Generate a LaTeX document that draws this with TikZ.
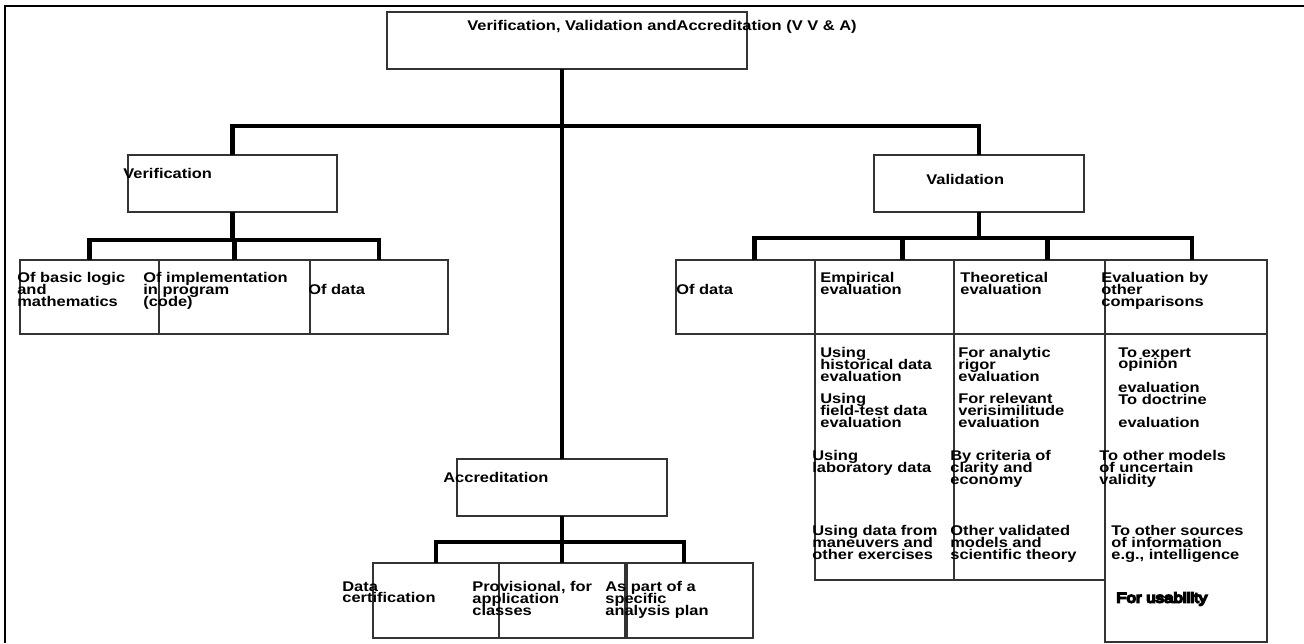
\documentclass[tikz,border=0pt]{standalone}
\usepackage{fontspec}
\setmainfont{Liberation Sans}[FakeStretch=1.17]
\newfontfamily\smearfont{Liberation Sans}[FakeStretch=1.2, FakeBold=12]
\usetikzlibrary{positioning}
% fixed line pitch, also where the lines would touch
\newcommand{\tightlines}{\setlength{\lineskiplimit}{-20pt}}
\tikzset{
  box/.style={draw=black!80, line width=0.6pt, inner sep=0pt, outer sep=0pt, anchor=north west},
  conn/.style={line width=2.3pt},
  lbl/.style={inner sep=0pt, anchor=north west, align=left,
              font=\fontsize{8}{6.7}\selectfont\tightlines\bfseries},
}
% box by top-left corner, width and height in pixels
\newcommand{\pxbox}[5]{\node[box, minimum width=#4*0.02cm, minimum height=#5*0.02cm] (#1) at (#2,#3) {};}

\begin{document}
\begin{tikzpicture}[x=0.02cm, y=-0.02cm]
    \useasboundingbox (0,0) rectangle (1304,643);
    % --- frame: top and left edges only ---
    \draw[line width=1.5pt] (1304,6) -- (5,6) -- (5,643);
    % --- top level ---
    \pxbox{root}{387}{12}{360}{57}
    \pxbox{verif}{128}{155}{209}{57}
    \pxbox{valid}{874}{155}{210}{57}
    \pxbox{accr}{457}{459}{210}{57}
    % --- verification leaves ---
    \pxbox{vlogic}{20}{260}{139}{74}
    \pxbox{vcode}{159}{260}{151}{74}
    \pxbox{vdata}{310}{260}{138}{74}
    % --- validation leaves ---
    \pxbox{adata}{676}{260}{139}{74}
    \pxbox{aemp}{815}{260}{139}{74}
    \pxbox{atheo}{954}{260}{151}{74}
    \pxbox{aother}{1105}{260}{162}{74}
    \pxbox{aempl}{815}{334}{139}{246}
    \pxbox{atheol}{954}{334}{151}{246}
    \pxbox{aotherl}{1105}{334}{162}{308}
    % --- accreditation leaves ---
    \pxbox{cdata}{373}{563}{126}{75}
    \pxbox{cprov}{499}{563}{126}{75}
    \pxbox{cplan}{627}{563}{126}{75}
    % --- connectors ---
    \draw[conn] (accr.north |- root.south) -- (accr.north);
    \draw[conn] (verif.north) -- ++(0,-29) -| (valid.north);
    \draw[conn] (verif.south) -- ++(0,28);
    \draw[conn] (vlogic.north) -- ++(0,-20) -| (vdata.north);
    \draw[conn] (vcode.north) -- ++(0,-20);
    \draw[conn] (valid.south) -- ++(0,26);
    \draw[conn] ([xshift=0.18cm]adata.north) -- ++(0,-22) -| ([xshift=0.12cm]aother.north);
    \draw[conn] ([xshift=0.36cm]aemp.north) -- ++(0,-22);
    \draw[conn] ([xshift=0.36cm]atheo.north) -- ++(0,-22);
    \draw[conn] (accr.south) -- ++(0,26);
    \draw[conn] (cdata.north) -- ++(0,-21) -| ([xshift=-0.12cm]cplan.north);
    \draw[conn] (cprov.north) -- ++(0,-21);
    % --- labels ---
    \node[lbl] (troot) at (467,20) {Verification, Validation andAccreditation (V V \& A)};
    \node[lbl] (tverif) at (123,168) {Verification};
    \node[lbl] (tvalid) at (926,174) {Validation};
    \node[lbl] (taccr) at (443,472) {Accreditation};
    \node[lbl] (tvlogic) at (17,272) {Of basic logic\\and\\mathematics};
    \node[lbl] (tvcode) at (143,272) {Of implementation\\in program\\(code)};
    \node[lbl] (tvdata) at (308,284) {Of data};
    \node[lbl] (tadata) at (676,284) {Of data};
    \node[lbl] (taemp) at (820,272) {Empirical\\evaluation};
    \node[lbl] (tatheo) at (960,272) {Theoretical\\evaluation};
    \node[lbl] (taother) at (1101,272) {Evaluation by\\other\\comparisons};
    \node[lbl] (thist) at (820,347) {Using\\historical data\\evaluation};
    \node[lbl] (tfield) at (820,393) {Using\\field-test data\\evaluation};
    \node[lbl] (tlab) at (812,450) {Using\\laboratory data};
    \node[lbl] (tman) at (812,525) {Using data from\\maneuvers and\\other exercises};
    \node[lbl] (trigor) at (958,347) {For analytic\\rigor\\evaluation};
    \node[lbl] (tveri) at (958,393) {For relevant\\verisimilitude\\evaluation};
    \node[lbl] (tclar) at (950,450) {By criteria of\\clarity and\\economy};
    \node[lbl] (tsci) at (950,525) {Other validated\\models and\\scientific theory};
    \node[lbl] (texpert) at (1118,347) {To expert\\opinion};
    \node[lbl] (tdoct) at (1118,382) {evaluation\\To doctrine};
    \node[lbl] (tdocte) at (1118,417) {evaluation};
    \node[lbl] (tmodels) at (1099,450) {To other models\\of uncertain\\validity};
    \node[lbl] (tsources) at (1111,525) {To other sources\\of information\\e.g., intelligence};
    \node[lbl, font=\fontsize{8}{6.7}\selectfont\smearfont] (tusab) at (1116,592) {For usability};
    \node[lbl] (tcdata) at (342,581) {Data\\certification};
    \node[lbl] (tcprov) at (472,581) {Provisional, for\\application\\classes};
    \node[lbl] (tcplan) at (605,581) {As part of a\\specific\\analysis plan};
\end{tikzpicture}
\end{document}
